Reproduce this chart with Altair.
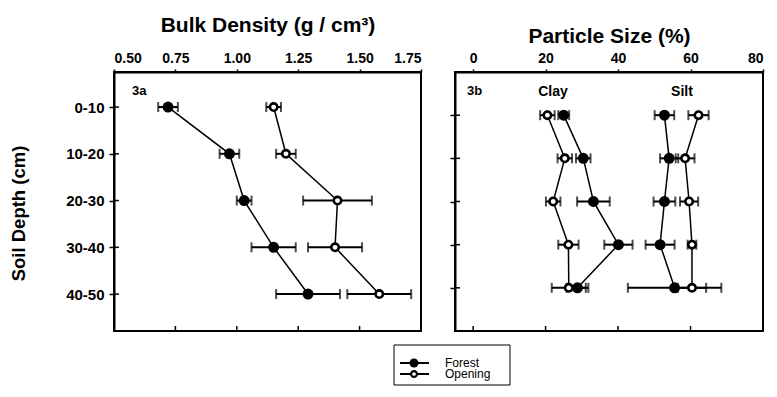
import altair as alt
import pandas as pd

# ---------------- data ----------------
depth_labels = ["0-10", "10-20", "20-30", "30-40", "40-50"]
depth_mid = [5, 15, 25, 35, 45]

bd_forest = [0.72, 0.97, 1.03, 1.15, 1.29]
bd_forest_err = [0.04, 0.04, 0.03, 0.09, 0.13]
bd_open = [1.15, 1.20, 1.41, 1.40, 1.58]
bd_open_err = [0.03, 0.04, 0.14, 0.11, 0.13]

clay_forest = [25.0, 30.4, 33.2, 40.1, 28.8]
clay_forest_err = [1.5, 2.0, 4.5, 3.9, 3.0]
clay_open = [20.5, 25.3, 22.1, 26.3, 26.4]
clay_open_err = [2.0, 2.0, 2.0, 2.8, 4.7]
silt_forest = [52.8, 54.1, 52.8, 51.6, 55.6]
silt_forest_err = [2.7, 2.5, 3.0, 4.0, 12.9]
silt_open = [62.2, 58.5, 59.6, 60.4, 60.4]
silt_open_err = [2.8, 2.6, 2.5, 1.2, 3.9]

bd_ticks = [0.5, 0.75, 1.0, 1.25, 1.5, 1.75]
ps_ticks = [0, 20, 40, 60, 80]
series_names = ["Forest", "Opening"]
left_tag = ["3a"]
right_tag = ["3b"]
fraction_names = ["Clay", "Silt"]

FONT = "Liberation Sans"


def frame(group, series, vals, errs):
    return pd.DataFrame({
        "group": group,
        "series": series,
        "key": group + "-" + series,
        "depth": depth_mid,
        "value": vals,
        "lo": [v - e for v, e in zip(vals, errs)],
        "hi": [v + e for v, e in zip(vals, errs)],
    })


bd_df = pd.concat([
    frame("BD", "Forest", bd_forest, bd_forest_err),
    frame("BD", "Opening", bd_open, bd_open_err),
], ignore_index=True)

ps_df = pd.concat([
    frame("Clay", "Forest", clay_forest, clay_forest_err),
    frame("Clay", "Opening", clay_open, clay_open_err),
    frame("Silt", "Forest", silt_forest, silt_forest_err),
    frame("Silt", "Opening", silt_open, silt_open_err),
], ignore_index=True)

label_expr = "[" + ",".join("'%s'" % s for s in depth_labels) + "][(datum.value-5)/10]"


def panel(df, xdomain, ydomain, xticks, xtitle, fmt, W, H, title_pad, show_y):
    xs = alt.Scale(domain=xdomain, nice=False, zero=False)
    ys = alt.Scale(domain=ydomain, reverse=True, nice=False, zero=False)
    xaxis = alt.Axis(orient="top", values=xticks, format=fmt, title=xtitle,
                     titleFontSize=21, titleFontWeight="bold", titlePadding=title_pad,
                     labelFontSize=14, labelFontWeight="bold", labelPadding=4,
                     tickSize=3, tickWidth=1.5, grid=False, domainWidth=2,
                     domainColor="black", tickColor="black", labelColor="black",
                     titleColor="black", labelFont=FONT, titleFont=FONT)
    if show_y:
        yaxis = alt.Axis(values=depth_mid, labelExpr=label_expr, title="Soil Depth (cm)",
                         titleFontSize=18.5, titleFontWeight="bold", titlePadding=37,
                         titleY=141,
                         labelFontSize=15, labelFontWeight="bold", labelPadding=5,
                         tickSize=5, tickWidth=1.5, grid=False, domainWidth=2,
                         domainColor="black", tickColor="black", labelColor="black",
                         titleColor="black", labelFont=FONT, titleFont=FONT)
    else:
        yaxis = alt.Axis(values=depth_mid, labels=False, title=None,
                         tickSize=5, tickWidth=1.5, grid=False, domainWidth=2,
                         domainColor="black", tickColor="black")
    X = lambda f: alt.X(f, scale=xs, axis=xaxis)
    Y = lambda f: alt.Y(f, scale=ys, axis=yaxis)
    base = alt.Chart(df)
    line = base.mark_line(color="black", strokeWidth=1.5).encode(
        x=X("value:Q"), y=Y("depth:Q"), detail="key:N", order="depth:Q",
    )
    bar = base.mark_rule(color="black", strokeWidth=2).encode(
        x=X("lo:Q"), x2="hi:Q", y=Y("depth:Q"),
    )
    cap_lo = base.mark_tick(color="black", orient="vertical", size=10, thickness=2).encode(
        x=X("lo:Q"), y=Y("depth:Q"),
    )
    cap_hi = base.mark_tick(color="black", orient="vertical", size=10, thickness=2).encode(
        x=X("hi:Q"), y=Y("depth:Q"),
    )
    pts_f = base.transform_filter(alt.datum.series == "Forest").mark_point(
        shape="circle", filled=True, color="black", size=120, opacity=1).encode(
        x=X("value:Q"), y=Y("depth:Q"),
    )
    pts_o = base.transform_filter(alt.datum.series == "Opening").mark_point(
        shape="circle", filled=False, fill="white", stroke="black", strokeWidth=2.6,
        size=55, opacity=1, fillOpacity=1).encode(
        x=X("value:Q"), y=Y("depth:Q"),
    )
    # inward ticks on bottom and left
    tick_df = pd.DataFrame({"value": xticks})
    bottom_ticks = alt.Chart(tick_df).mark_rule(color="black", strokeWidth=1.5).encode(
        x=X("value:Q"), y=alt.value(H), y2=alt.value(H - 5),
    )
    ytick_df = pd.DataFrame({"depth": depth_mid})
    left_ticks = alt.Chart(ytick_df).mark_rule(color="black", strokeWidth=1.5).encode(
        y=Y("depth:Q"), x=alt.value(0), x2=alt.value(5),
    )
    return [line, bar, cap_lo, cap_hi, pts_f, pts_o, bottom_ticks, left_ticks]


W1, W2, H = 307, 308, 259

left_layers = panel(bd_df, [0.5, 1.75], [-2.5, 52.9], bd_ticks,
                    "Bulk Density (g / cm³)", ".2f", W1, H, 16, True)
right_layers = panel(ps_df, [-5, 80], [-5, 55], ps_ticks,
                     "Particle Size (%)", "d", W2, H, 5, False)

# panel annotations
tag_a = alt.Chart(pd.DataFrame({"t": left_tag})).mark_text(
    align="left", baseline="middle", font=FONT, fontSize=13, fontWeight="bold", color="black").encode(
    text="t:N", x=alt.value(18), y=alt.value(19))
tag_b = alt.Chart(pd.DataFrame({"t": right_tag})).mark_text(
    align="left", baseline="middle", font=FONT, fontSize=13, fontWeight="bold", color="black").encode(
    text="t:N", x=alt.value(12), y=alt.value(19))
frac_layers = []
for name, xpos in zip(fraction_names, [98, 227]):
    frac_layers.append(alt.Chart(pd.DataFrame({"t": [name]})).mark_text(
        align="center", baseline="middle", font=FONT, fontSize=14, fontWeight="bold", color="black").encode(
        text="t:N", x=alt.value(xpos), y=alt.value(20)))

# legend (drawn in left panel coordinates)
leg_df = pd.DataFrame({"series": series_names})
legend_layers = [
    alt.Chart(pd.DataFrame({"b": [0]})).mark_rect(
        fillOpacity=0, stroke="black", strokeWidth=1).encode(
        x=alt.value(280), x2=alt.value(396), y=alt.value(273), y2=alt.value(313)),
]
for i, name in enumerate(series_names):
    yv = 291 + 11 * i
    sub = alt.Chart(leg_df).transform_filter(alt.datum.series == name)
    legend_layers.append(sub.mark_rule(color="black", strokeWidth=2).encode(
        x=alt.value(286), x2=alt.value(315), y=alt.value(yv)))
    if name == "Forest":
        legend_layers.append(sub.mark_point(shape="circle", filled=True, color="black",
                                            size=80, opacity=1).encode(
            x=alt.value(300), y=alt.value(yv)))
    else:
        legend_layers.append(sub.mark_point(shape="circle", filled=False, fill="white",
                                            stroke="black", strokeWidth=2.2, size=35,
                                            opacity=1, fillOpacity=1).encode(
            x=alt.value(300), y=alt.value(yv)))
    legend_layers.append(sub.mark_text(align="left", baseline="middle", font=FONT,
                                       fontSize=12, color="black").encode(
        text="series:N", x=alt.value(331), y=alt.value(yv)))

left = alt.layer(*left_layers, tag_a, *legend_layers).properties(width=W1, height=H)
right = alt.layer(*right_layers, tag_b, *frac_layers).properties(width=W2, height=H)

chart = alt.hconcat(left, right, spacing=34, bounds="flush").properties(
    padding={"left": 0, "top": 5, "right": 0, "bottom": 0}
).configure(font=FONT).configure_view(stroke="black", strokeWidth=2)

chart.save("out.html", embed_options={"renderer": "svg", "actions": False})
